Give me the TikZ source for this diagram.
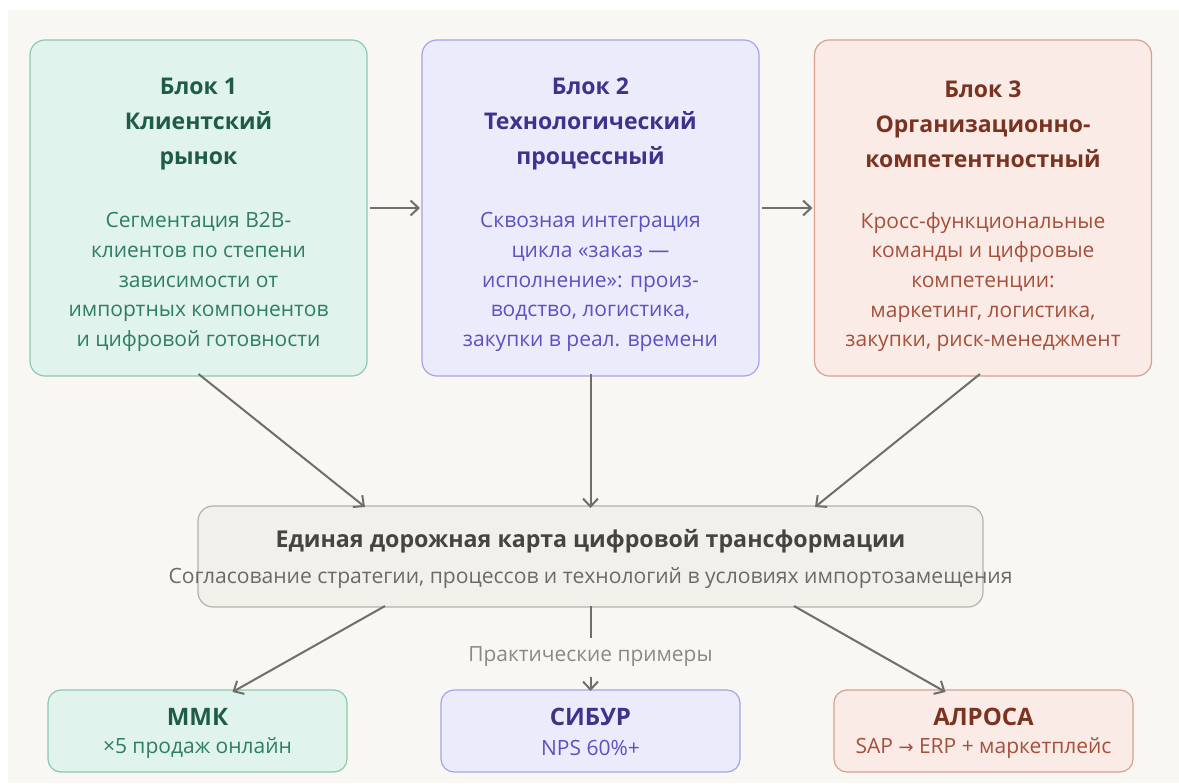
\documentclass[tikz,border=0pt]{standalone}
\usepackage{fontspec}
\setmainfont{Open Sans}
\newfontfamily\symfont{DejaVu Sans}
\usetikzlibrary{arrows.meta,calc}
\definecolor{bg}{HTML}{F8F7F3}
\definecolor{gfill}{HTML}{E0F3EC}\definecolor{gline}{HTML}{8DC8B0}
\definecolor{gtitle}{HTML}{1F5C47}\definecolor{gbody}{HTML}{2F7E63}
\definecolor{pfill}{HTML}{ECEBFC}\definecolor{pline}{HTML}{A8A2E6}
\definecolor{ptitle}{HTML}{3B338C}\definecolor{pbody}{HTML}{5B52C2}
\definecolor{rfill}{HTML}{FAEBE6}\definecolor{rline}{HTML}{D8A08E}
\definecolor{rtitle}{HTML}{7A3320}\definecolor{rbody}{HTML}{A6503A}
\definecolor{cfill}{HTML}{F2F0EA}\definecolor{cline}{HTML}{B4B1A8}
\definecolor{ctitle}{HTML}{45443F}\definecolor{csub}{HTML}{6B6A65}
\definecolor{arrc}{HTML}{6E6E6A}\definecolor{lblc}{HTML}{8A8984}
\begin{document}
\begin{tikzpicture}[x=1pt,y=-1pt,
  box/.style={draw, line width=1.2pt, rounded corners=15pt, inner sep=0pt, outer sep=0pt},
  bigbox/.style={box, minimum width=337pt, minimum height=336pt},
  smallbox/.style={box, rounded corners=13pt, minimum width=299pt, minimum height=82pt},
  ttl/.style={font=\bfseries\fontsize{23}{35}\selectfont, align=center, inner sep=0pt},
  bdy/.style={font=\fontsize{21}{29.6}\selectfont, align=center, inner sep=0pt},
  sttl/.style={font=\bfseries\fontsize{24}{28}\selectfont, inner sep=0pt},
  ssub/.style={font=\fontsize{21}{24}\selectfont, inner sep=0pt},
  arr/.style={draw=arrc, line width=2pt, -{Straight Barb[length=8pt,width=15pt,line width=2pt]}}
]
\useasboundingbox (0,0) rectangle (1179,784);
\fill[white] (0,0) rectangle (1179,784);
\fill[bg] (8,10) rectangle (1179,783);

% top blocks
\node[bigbox, draw=gline, fill=gfill] (b1) at (198.5,208) {};
\node[bigbox, draw=pline, fill=pfill] (b2) at (590.5,208) {};
\node[bigbox, draw=rline, fill=rfill] (b3) at (983,208) {};

\node[ttl, text=gtitle] (t1) at (198.5,124) {Блок 1\\Клиентский\\рынок};
\node[bdy, text=gbody] (d1) at (198.5,282) {Сегментация B2B-\\клиентов по степени\\зависимости от\\импортных компонентов\\и цифровой готовности};

\node[ttl, text=ptitle] (t2) at (590.5,124) {Блок 2\\Технологический\\процессный};
\node[bdy, text=pbody] (d2) at (590.5,282) {Сквозная интеграция\\цикла «заказ —\\исполнение»: произ-\\водство, логистика,\\закупки в реал. времени};

\node[ttl, text=rtitle] (t3) at (983,124) {Блок 3\\Организационно-\\компетентностный};
\node[bdy, text=rbody] (d3) at (983,282) {Кросс-функциональные\\команды и цифровые\\компетенции:\\маркетинг, логистика,\\закупки, риск-менеджмент};

% center
\node[box, draw=cline, fill=cfill, minimum width=785pt, minimum height=101pt] (c) at (590.5,556.5) {};
\node[font=\bfseries\fontsize{23.2}{28}\selectfont, text=ctitle, inner sep=0pt] (ct) at (590.5,541) {Единая дорожная карта цифровой трансформации};
\node[font=\fontsize{21.1}{24}\selectfont, text=csub, inner sep=0pt] (cs) at (590.5,578) {Согласование стратегии, процессов и технологий в условиях импортозамещения};

% bottom
\node[smallbox, draw=gline, fill=gfill] (s1) at (197.5,731) {};
\node[smallbox, draw=pline, fill=pfill] (s2) at (590.5,731) {};
\node[smallbox, draw=rline, fill=rfill] (s3) at (983.5,731) {};
\node[sttl, text=gtitle] (s1t) at (197.5,717) {ММК};
\node[ssub, text=gbody] (s1s) at (197.5,748) {×5 продаж онлайн};
\node[sttl, text=ptitle] (s2t) at (590.5,717) {СИБУР};
\node[ssub, text=pbody] (s2s) at (590.5,748) {NPS 60\%+};
\node[sttl, text=rtitle] (s3t) at (983.5,717) {АЛРОСА};
\node[ssub, text=rbody] (s3s) at (983.5,748) {SAP {\symfont\fontsize{18}{24}\selectfont→} ERP + маркетплейс};

% connectors
\draw[arr] ([xshift=3pt]b1.east) -- ([xshift=-2pt]b2.west);
\draw[arr] ([xshift=3pt]b2.east) -- ([xshift=-2pt]b3.west);
\draw[arr] ([yshift=2pt]b1.south) -- ([xshift=-225.5pt,yshift=-1pt]c.north);
\draw[arr] ([yshift=2pt]b2.south) -- ([yshift=-2pt]c.north);
\draw[arr] ([xshift=-3pt,yshift=2pt]b3.south) -- ([xshift=224.5pt,yshift=-1pt]c.north);
\draw[arr] ([xshift=-205.5pt,yshift=1pt]c.south) -- ([xshift=35pt,yshift=-2pt]s1.north);
\draw[arr] ([xshift=203.5pt,yshift=1pt]c.south) -- ([xshift=-38pt,yshift=-2pt]s3.north);
\draw[arr] ([yshift=1pt]c.south) -- node[pos=0.6, fill=bg, text=lblc, font=\fontsize{20.9}{22}\selectfont, inner xsep=4pt, minimum height=39pt, inner ysep=0pt] (lbl) {Практические примеры} ([yshift=-1pt]s2.north);
\end{tikzpicture}
\end{document}
